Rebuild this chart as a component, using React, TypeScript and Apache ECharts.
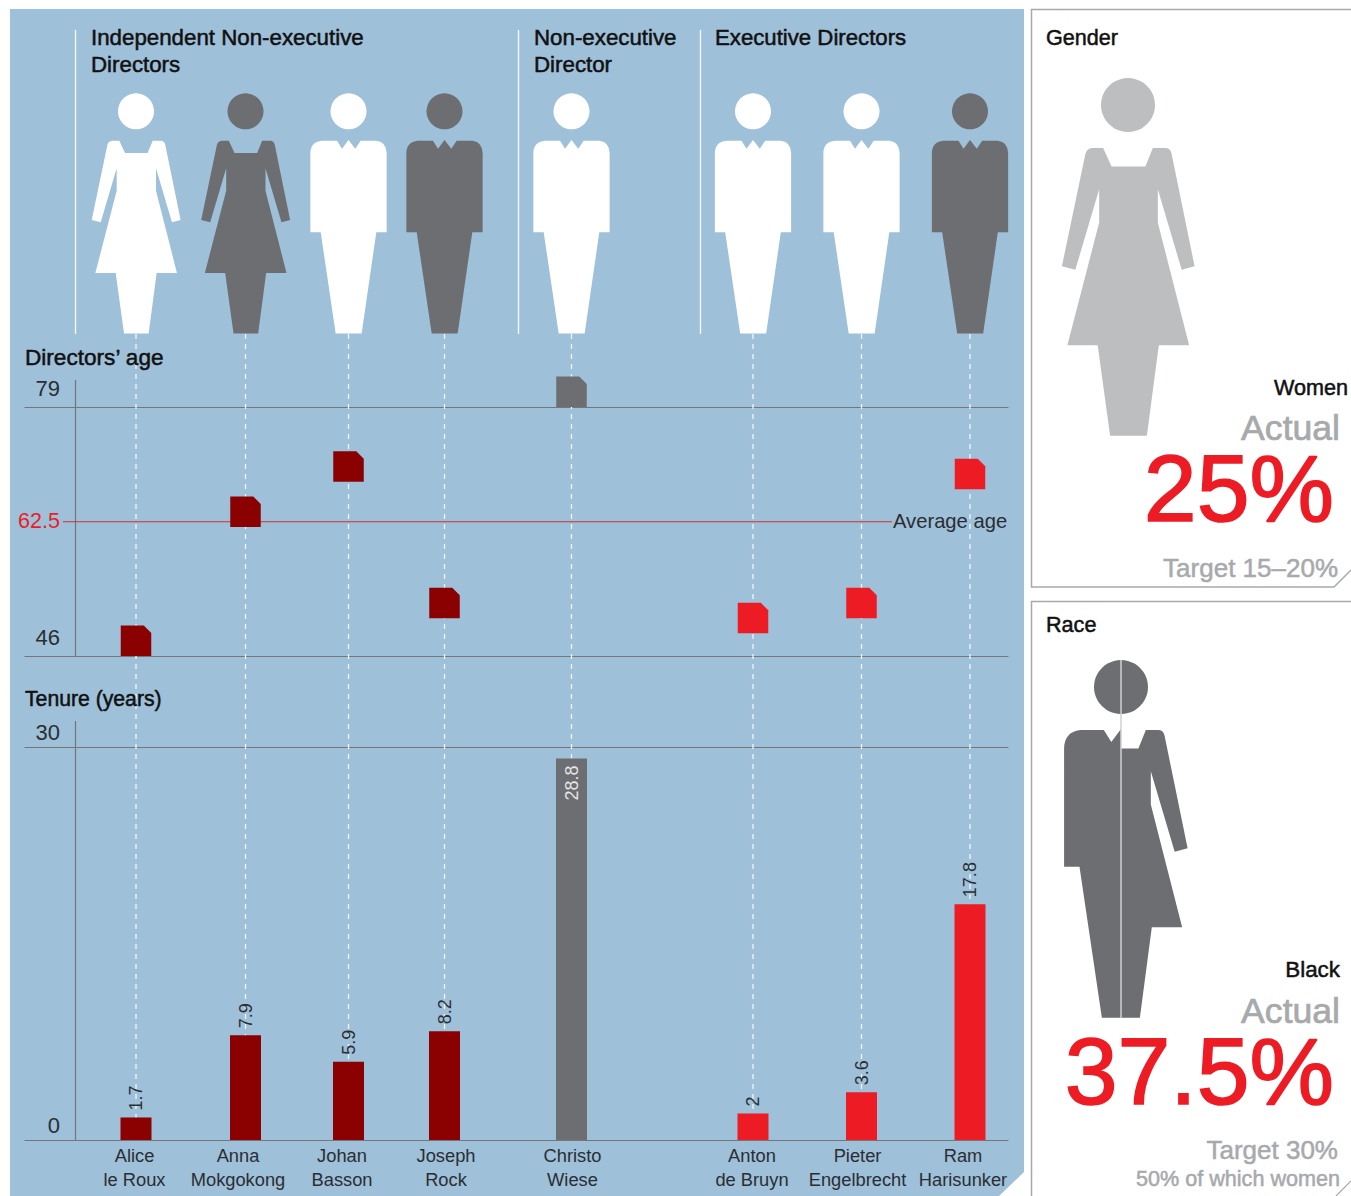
import React, { useEffect, useRef } from "react";
import * as echarts from "echarts";

// ---------- data ----------
const directorNames = [
  "Alice\nle Roux", "Anna\nMokgokong", "Johan\nBasson", "Joseph\nRock",
  "Christo\nWiese", "Anton\nde Bruyn", "Pieter\nEngelbrecht", "Ram\nHarisunker",
];
const directorGroups = ["ind", "ind", "ind", "ind", "non", "exec", "exec", "exec"];
const directorFigures = ["woman", "woman", "man", "man", "man", "man", "man", "man"];
const directorShade = ["light", "dark", "light", "dark", "light", "light", "light", "dark"];
const ageValues = [46, 63.1, 69.1, 51, 79, 49, 51, 68.1];
const tenureValues = [1.7, 7.9, 5.9, 8.2, 28.8, 2, 3.6, 17.8];
const ageTickValues = [46, 79];
const averageAgeLabel = "62.5";
const averageAgeDrawnAt = 63.8; // the reference rules this line slightly off the scale
const tenureTickLabels = ["0", "30"];
const tenureTickDrawnAt = [0, 29.66]; // the reference rules its "30" line here on the bar scale

// ---------- layout (the horizontal scale of all panels runs in these seat units) ----------
const seatX = [136, 245.5, 348.5, 444.5, 571.5, 753, 861.5, 970];
const nameX = [134.5, 238, 342, 446, 572.5, 752, 857.5, 963];
const X_MIN = 25;
const X_MAX = 1008;

const FONT = "'Liberation Sans', Arial, sans-serif";
const PANEL = "#9ec0d9";
const GREY = "#6d6e71";
const DARK_RED = "#8b0000";
const RED = "#ed1c24";
const LIGHT_GREY = "#a7a9ac";
const AXIS = "#75767a";
const TEXT = "#2a2e33";
const groupColor: Record<string, string> = { ind: DARK_RED, non: GREY, exec: RED };

const WOMAN =
  "M-72 0L-50 0L-33 37L35 37L50 0L76 0Q86 1 88 13L134 238L108 245L60 83L60 150L123 397L62 397L38 579L-36 579L-61 397L-122 397L-58 150L-58 83L-106 245L-133 238L-86 13Q-83 1 -72 0Z";
const MAN =
  "M-34.5 0L-19.5 24L0 -2L20.5 24L36.5 0L84 0Q114 3 114.5 38L114.5 275L83.5 275L39.5 579L-38.5 579L-83.5 275L-114.5 275L-114.5 38Q-114.5 3 -80 0Z";
const MIXED =
  "M0 37L35 37L50 0L76 0Q86 1 88 13L134 238L108 245L60 83L60 150L123 397L62 397L38 579L-38.5 579L-83.5 275L-114.5 275L-114.5 38Q-114.5 3 -80 0L-34.5 0L-19.5 24L0 -2Z";
echarts.graphic.registerShape("womanFigure", echarts.graphic.extendPath(WOMAN, {}));
echarts.graphic.registerShape("manFigure", echarts.graphic.extendPath(MAN, {}));
echarts.graphic.registerShape("mixedFigure", echarts.graphic.extendPath(MIXED, {}));

const txt = (
  text: string, x: number, y: number, fontSize: number, fill: string,
  align: "left" | "right" = "left", weight = 0, lineHeight?: number
) => ({
  type: "text", x, y, z: 20, silent: true,
  style: {
    text, x: 0, y: 0, fontSize, fill, fontFamily: FONT, align, verticalAlign: "middle",
    lineHeight,
    ...(weight ? { stroke: fill, lineWidth: weight } : {}),
  },
});

const vline = (x: number, y1: number, y2: number, stroke: string, lineWidth = 1.2, z = 5) => ({
  type: "line", z, silent: true, shape: { x1: x, y1, x2: x, y2 }, style: { stroke, lineWidth },
});

const figures = seatX.flatMap((cx, i) => {
  const fill = directorShade[i] === "light" ? "#ffffff" : GREY;
  return [
    { type: "circle", z: 10, silent: true, shape: { cx, cy: 111.3, r: 18 }, style: { fill } },
    {
      type: directorFigures[i] === "woman" ? "womanFigure" : "manFigure",
      x: cx, y: 140.7, scaleX: 1 / 3, scaleY: 1 / 3, z: 10, silent: true, style: { fill },
    },
  ];
});

const decor = [
  // main panel, with its clipped corner
  {
    type: "polygon", z: -10, silent: true,
    shape: { points: [[10, 9], [1024, 9], [1024, 1172], [999, 1196], [10, 1196]] },
    style: { fill: PANEL },
  },
  // group separators
  vline(75.5, 30, 334, "#f4f8fb", 1.4),
  vline(518.5, 30, 334, "#f4f8fb", 1.4),
  vline(700.5, 30, 334, "#f4f8fb", 1.4),
  // axis stems above the top rules
  vline(75.5, 380, 407, AXIS),
  vline(75.5, 721, 747, AXIS),
  txt("Independent Non-executive\nDirectors", 91, 51, 22.3, "#111", "left", 0.5, 27),
  txt("Non-executive\nDirector", 534, 51, 22.3, "#111", "left", 0.5, 27),
  txt("Executive Directors", 715, 37.5, 22.2, "#111", "left", 0.5),
  txt("Directors\u2019 age", 25, 357.5, 22.6, "#111", "left", 0.5),
  txt("Tenure (years)", 25, 698.5, 21.2, "#111", "left", 0.5),
  ...figures,
  // gender card
  {
    type: "polyline", z: -5, silent: true,
    shape: { points: [[1351, 9.5], [1031.5, 9.5], [1031.5, 587], [1334, 587], [1351, 570]] },
    style: { fill: "#fff", stroke: LIGHT_GREY, lineWidth: 1.5 },
  },
  txt("Gender", 1046, 37.5, 21.6, "#111", "left", 0.5),
  { type: "circle", z: 10, silent: true, shape: { cx: 1128, cy: 105, r: 27 }, style: { fill: "#bcbec0" } },
  { type: "womanFigure", x: 1128, y: 148, scaleX: 0.497, scaleY: 0.497, z: 10, silent: true, style: { fill: "#bcbec0" } },
  txt("Women", 1348, 387.5, 21.6, "#111", "right", 0.5),
  txt("Actual", 1340, 428, 35.6, LIGHT_GREY, "right", 0.7),
  txt("25%", 1334, 487.5, 95, RED, "right", 1.6, 70),
  txt("Target 15\u201320%", 1338, 567.5, 26, LIGHT_GREY, "right", 0.5),
  // race card
  {
    type: "polyline", z: -5, silent: true,
    shape: { points: [[1351, 601.5], [1031.5, 601.5], [1031.5, 1196]] },
    style: { fill: "#fff", stroke: LIGHT_GREY, lineWidth: 1.5 },
  },
  {
    type: "line", z: -4, silent: true,
    shape: { x1: 1336, y1: 1196, x2: 1351, y2: 1181 },
    style: { stroke: LIGHT_GREY, lineWidth: 1.2 },
  },
  txt("Race", 1046, 624.5, 21.6, "#111", "left", 0.5),
  { type: "circle", z: 10, silent: true, shape: { cx: 1121, cy: 687, r: 27 }, style: { fill: GREY } },
  { type: "mixedFigure", x: 1121, y: 730, scaleX: 0.497, scaleY: 0.497, z: 10, silent: true, style: { fill: GREY } },
  vline(1121, 660, 1018, "#d0d2d4", 1.5, 11),
  txt("Black", 1340, 969.5, 22.4, "#111", "right", 0.5),
  txt("Actual", 1340, 1011, 35.6, LIGHT_GREY, "right", 0.7),
  txt("37.5%", 1334, 1070.5, 95, RED, "right", 1.6, 70),
  txt("Target 30%", 1338, 1149.5, 26, LIGHT_GREY, "right", 0.5),
  txt("50% of which women", 1340, 1178.5, 21.6, LIGHT_GREY, "right", 0.5),
];

const hAxis = (gridIndex: number, position: "top" | "bottom", extra: object = {}) => ({
  type: "value", gridIndex, position, min: X_MIN, max: X_MAX,
  axisLine: { show: true, onZero: false, lineStyle: { color: AXIS, width: 1.2 } },
  axisTick: { show: false }, axisLabel: { show: false }, splitLine: { show: false },
  ...extra,
});

const tickLabel = {
  show: true, fontFamily: FONT, fontSize: 22, color: TEXT, margin: 15, verticalAlign: "bottom" as const,
};

const option: any = {
  animation: false,
  backgroundColor: "transparent",
  graphic: { elements: decor },
  grid: [
    { left: X_MIN, right: 1351 - X_MAX, top: 407, height: 249 },
    { left: X_MIN, right: 1351 - X_MAX, top: 747, height: 393 },
    { left: X_MIN, right: 1351 - X_MAX, top: 334, height: 806 },
  ],
  xAxis: [
    hAxis(0, "bottom"),
    hAxis(0, "top"),
    hAxis(1, "bottom", {
      axisLabel: {
        show: true, customValues: nameX, margin: 3, fontFamily: FONT, fontSize: 18.3,
        lineHeight: 24, color: TEXT,
        formatter: (v: number) => directorNames[nameX.indexOf(v)] ?? "",
      },
    }),
    hAxis(1, "top"),
    hAxis(2, "bottom", { show: false }),
  ],
  yAxis: [
    {
      type: "value", gridIndex: 0, min: 46, max: 79, position: "left", offset: -50,
      axisLine: { show: true, onZero: false, lineStyle: { color: AXIS, width: 1.2 } },
      axisTick: { show: false }, splitLine: { show: false },
      axisLabel: { ...tickLabel, customValues: ageTickValues, padding: [0, 0, 8, 0] },
    },
    {
      type: "value", gridIndex: 1, min: 0, max: tenureTickDrawnAt[1], position: "left", offset: -50,
      axisLine: { show: true, onZero: false, lineStyle: { color: AXIS, width: 1.2 } },
      axisTick: { show: false }, splitLine: { show: false },
      axisLabel: {
        ...tickLabel, customValues: tenureTickDrawnAt, padding: [0, 0, 4, 0],
        formatter: (v: number) => tenureTickLabels[tenureTickDrawnAt.indexOf(v)] ?? "",
      },
    },
    { type: "value", gridIndex: 2, min: 0, max: 1, show: false },
  ],
  series: [
    {
      type: "custom", xAxisIndex: 4, yAxisIndex: 2, z: 1, silent: true, clip: false,
      data: seatX.map((x) => [x, 0]),
      renderItem: (_: any, api: any) => {
        const top = api.coord([api.value(0), 1]);
        const bottom = api.coord([api.value(0), 0]);
        return {
          type: "line",
          shape: { x1: top[0], y1: top[1], x2: bottom[0], y2: bottom[1] },
          style: { stroke: "#f2f6f9", lineWidth: 1.3, lineDash: [5, 5] },
        };
      },
    },
    {
      type: "line", xAxisIndex: 0, yAxisIndex: 0, z: 2, silent: true,
      symbol: "circle", symbolSize: 0, showSymbol: true,
      lineStyle: { color: "#c8303c", width: 1.1 },
      data: [
        {
          value: [63, averageAgeDrawnAt],
          label: {
            show: true, position: "left", distance: 3, formatter: averageAgeLabel,
            fontFamily: FONT, fontSize: 21.6, color: RED, offset: [0, -1],
          },
        },
        {
          value: [892, averageAgeDrawnAt],
          label: {
            show: true, position: "right", distance: 1, formatter: "Average age",
            fontFamily: FONT, fontSize: 20.2, color: TEXT, offset: [0, -1],
          },
        },
      ],
    },
    {
      type: "scatter", xAxisIndex: 0, yAxisIndex: 0, z: 5, silent: true, clip: false,
      symbol: "path://M0 0H23L30.5 7.5V30.5H0Z", symbolSize: 30.5, symbolOffset: [0, "-50%"],
      data: ageValues.map((v, i) => ({
        value: [seatX[i], v],
        itemStyle: { color: i === 4 ? GREY : groupColor[directorGroups[i]], opacity: 1 },
      })),
    },
    {
      type: "bar", xAxisIndex: 2, yAxisIndex: 1, z: 5, silent: true, barWidth: 31,
      data: tenureValues.map((v, i) => ({
        value: [seatX[i], v],
        itemStyle: { color: groupColor[directorGroups[i]] },
        label:
          i === 4
            ? { position: "insideTop", rotate: 90, align: "right", verticalAlign: "middle", distance: 7, color: "#e6e7e8" }
            : { position: "top", rotate: 90, align: "left", verticalAlign: "middle", distance: 7, color: TEXT },
      })),
      label: {
        show: true, fontFamily: FONT, fontSize: 18,
        formatter: (p: any) => String(p.value[1]),
      },
    },
  ],
};

export default function App() {
  const ref = useRef<HTMLDivElement>(null);
  useEffect(() => {
    const chart = echarts.init(ref.current!, undefined, { renderer: "svg" });
    chart.setOption(option);
    return () => chart.dispose();
  }, []);
  return (
    <div
      ref={ref}
      style={{ position: "absolute", left: 0, top: 0, width: 1351, height: 1196, background: "#fff", overflow: "hidden" }}
    />
  );
}
